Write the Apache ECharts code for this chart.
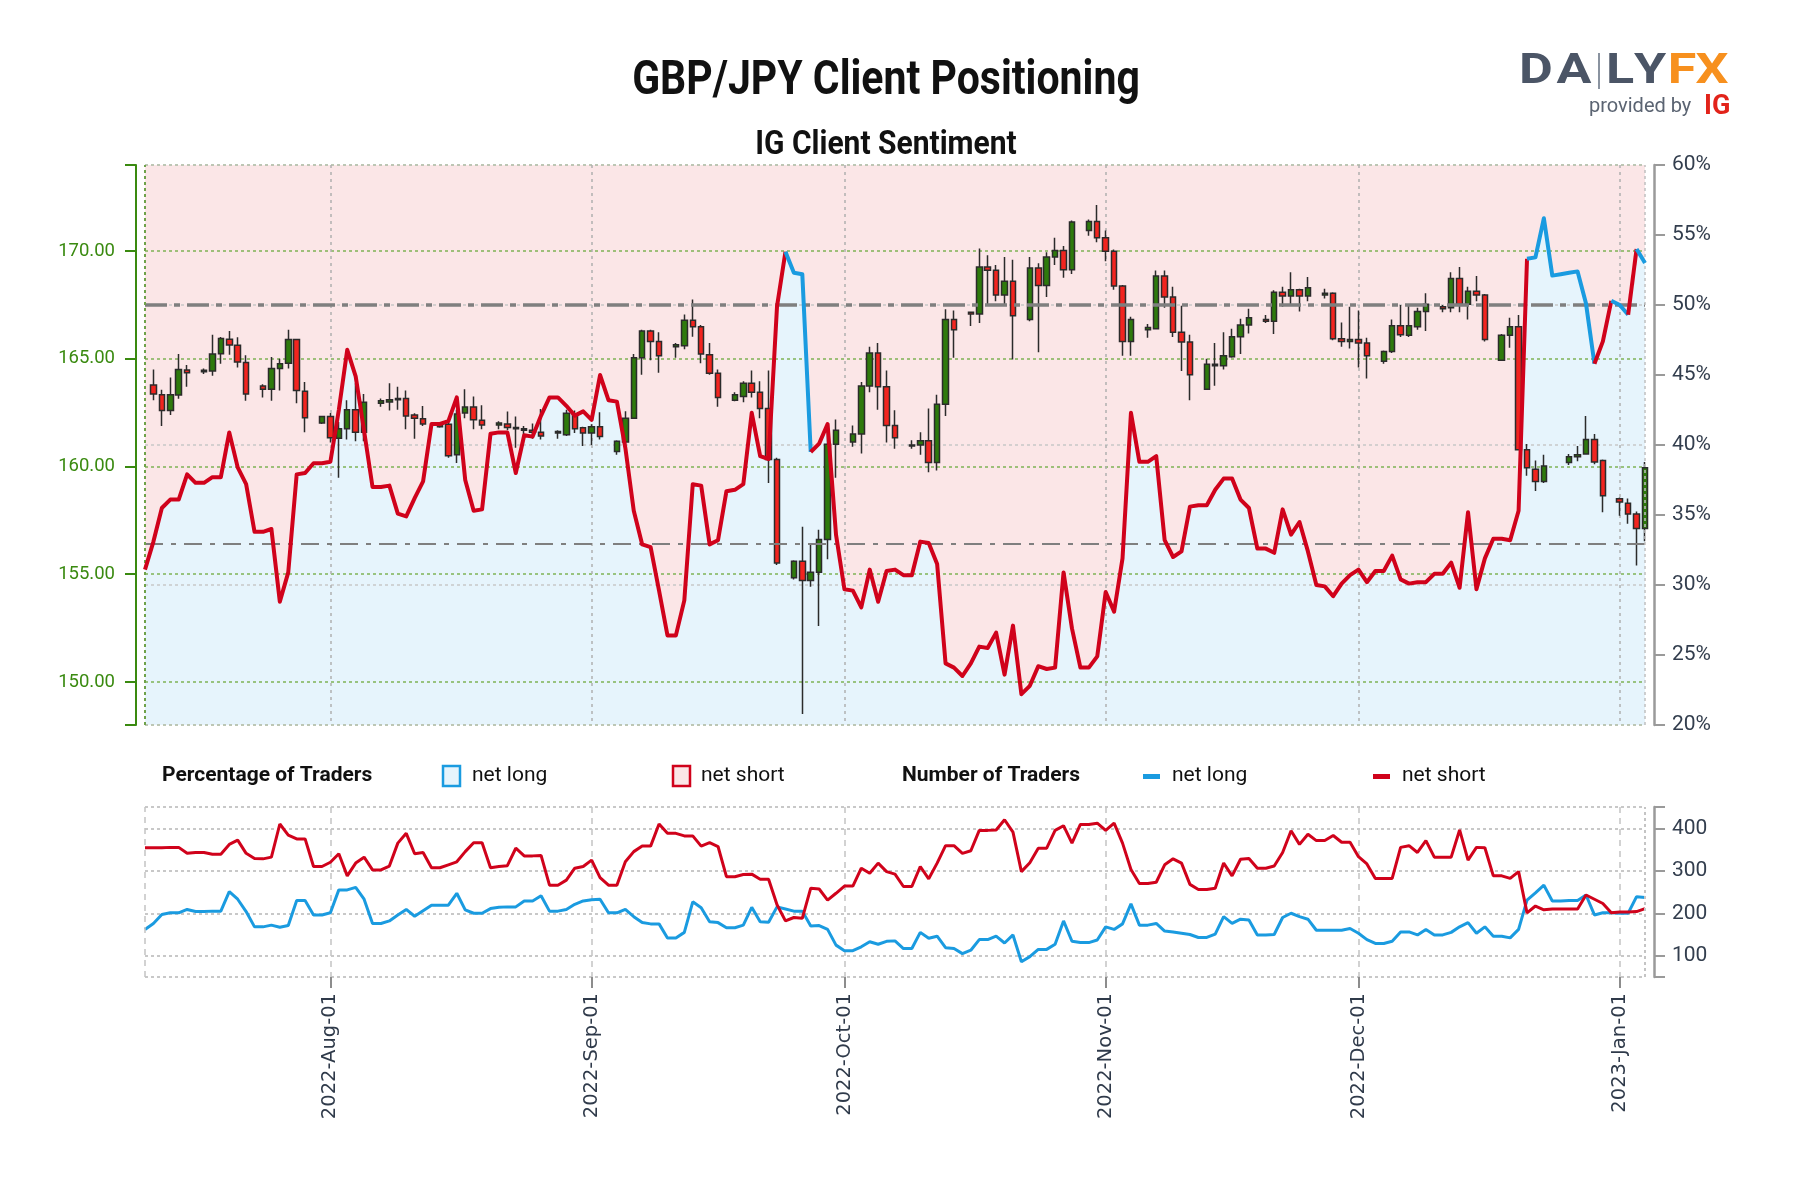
<!DOCTYPE html>
<html><head><meta charset="utf-8">
<script src="https://cdn.jsdelivr.net/npm/echarts@6/dist/echarts.min.js"></script>
<style>html,body{margin:0;padding:0;background:#fff}#c{width:1800px;height:1200px}</style>
</head><body><div id="c"></div>
<script>
// ---------------- DATA ----------------
const startDate = '2022-07-10';           // first daily sentiment point
const xMin = '2022-07-10', xMax = '2023-01-04';
const monthTicks = ['2022-08-01','2022-09-01','2022-10-01','2022-11-01','2022-12-01','2023-01-01'];
const priceLabels = [150,155,160,165,170];
const pctLabels = [20,25,30,35,40,45,50,55,60];
const countLabels = [100,200,300,400];

// % of traders net long (daily)
const pctLong = [
31.1,33.1,35.5,36.1,36.1,37.9,37.3,37.3,37.7,37.7,40.9,38.4,37.2,33.8,33.8,34.0,28.8,30.9,37.9,38.0,
38.7,38.7,38.8,42.5,46.8,44.9,41.0,37.0,37.0,37.1,35.1,34.9,36.2,37.4,41.5,41.5,41.7,43.4,37.5,35.3,
35.4,40.8,40.9,40.9,38.0,40.7,40.6,42.1,43.4,43.4,42.8,42.1,42.4,41.8,45.0,43.2,43.1,39.8,35.3,32.9,
32.7,29.6,26.4,26.4,28.9,37.2,37.1,32.9,33.2,36.7,36.8,37.2,42.3,39.2,39.0,49.9,53.8,52.3,52.2,39.5,
40.1,41.5,33.6,29.7,29.6,28.4,31.1,28.8,31.0,31.1,30.7,30.7,33.1,33.0,31.5,24.4,24.1,23.5,24.4,25.6,
25.5,26.6,23.6,27.1,22.2,22.8,24.2,24.0,24.1,30.9,26.9,24.1,24.1,24.9,29.5,28.1,31.9,42.3,38.8,38.8,
39.2,33.2,32.0,32.4,35.6,35.7,35.7,36.8,37.6,37.6,36.1,35.5,32.6,32.6,32.3,35.4,33.6,34.5,32.4,30.0,
29.9,29.2,30.1,30.7,31.1,30.2,31.0,31.0,32.1,30.4,30.1,30.2,30.2,30.8,30.8,31.6,29.8,35.2,29.7,31.9,
33.3,33.3,33.2,35.3,53.3,53.4,56.2,52.1,52.2,52.3,52.4,50.1,45.8,47.4,50.3,50.0,49.3,54.0,53.0
];
const sentimentAvg = 32.95;

// number of traders (daily)
const netLong = [
162,176,197,201,201,209,204,204,205,205,251,233,204,168,168,172,167,171,230,230,
196,196,201,255,255,261,233,176,176,182,196,209,193,206,219,219,219,247,208,200,
200,211,214,215,215,229,229,241,205,205,209,221,229,232,233,201,201,209,192,178,
175,175,142,142,155,227,213,180,178,166,166,172,214,180,179,215,210,205,205,170,
171,162,125,112,112,121,133,127,134,135,117,117,155,141,146,119,117,105,113,138,
138,146,130,149,86,98,115,115,127,182,134,131,131,137,168,162,175,222,172,172,
176,158,156,153,150,143,143,151,192,176,186,184,149,149,150,190,200,192,186,160,
160,160,160,164,153,138,129,129,134,156,156,149,162,149,149,155,168,178,153,168,
146,146,142,162,231,248,266,229,229,230,230,243,196,201,201,200,200,239,237
];
const netShort = [
354,354,354,355,355,341,343,343,339,339,362,372,341,329,328,332,410,384,375,375,
310,310,320,340,288,318,332,302,302,311,365,388,340,343,307,307,314,321,345,366,
366,307,310,312,353,335,335,336,266,266,278,306,310,325,284,266,266,321,345,358,
358,410,388,388,382,382,358,366,357,286,286,291,292,280,280,220,182,190,188,259,
257,231,247,264,264,306,294,318,298,292,263,263,310,281,318,359,359,341,347,395,
395,396,420,391,298,319,353,353,395,406,365,409,409,412,395,412,365,303,270,270,
273,314,328,318,268,256,256,259,318,288,327,329,306,306,311,343,394,362,386,371,
371,383,367,367,333,316,282,282,282,355,359,343,371,332,332,332,396,325,355,354,
288,288,282,298,201,217,208,210,210,210,210,243,233,223,201,203,203,204,211
];

// GBP/JPY daily candles: [date, open, close, low, high]
const candles = [
['2022-07-11',163.79,163.37,163.08,164.50],['2022-07-12',163.33,162.60,161.88,163.57],
['2022-07-13',162.60,163.33,162.39,164.13],['2022-07-14',163.32,164.50,163.15,165.22],
['2022-07-15',164.48,164.36,163.70,164.72],['2022-07-17',164.40,164.47,164.30,164.55],
['2022-07-18',164.43,165.22,164.21,166.12],['2022-07-19',165.24,165.95,164.77,166.02],
['2022-07-20',165.91,165.64,165.19,166.29],['2022-07-21',165.63,164.85,164.60,166.00],
['2022-07-22',164.83,163.37,163.06,165.17],['2022-07-24',163.74,163.59,163.20,163.82],
['2022-07-25',163.59,164.55,163.06,165.09],['2022-07-26',164.55,164.77,163.53,165.00],
['2022-07-27',164.80,165.90,164.55,166.35],['2022-07-28',165.90,163.53,162.94,165.93],
['2022-07-29',163.50,162.27,161.59,163.92],['2022-07-31',162.02,162.32,161.98,162.35],
['2022-08-01',162.32,161.34,161.12,162.49],['2022-08-02',161.31,161.76,159.48,162.07],
['2022-08-03',161.76,162.64,161.26,163.08],['2022-08-04',162.64,161.59,161.17,163.87],
['2022-08-05',161.59,162.99,161.17,163.37],['2022-08-07',162.94,163.06,162.78,163.16],
['2022-08-08',163.00,163.10,162.60,163.87],['2022-08-09',163.10,163.16,162.64,163.70],
['2022-08-10',163.16,162.35,161.73,163.53],['2022-08-11',162.39,162.24,161.29,162.47],
['2022-08-12',162.22,161.98,161.88,162.81],['2022-08-14',161.85,161.98,161.80,162.07],
['2022-08-15',161.96,160.50,160.41,162.10],['2022-08-16',160.55,162.44,160.16,162.64],
['2022-08-17',162.49,162.76,162.24,163.59],['2022-08-18',162.76,162.17,161.73,163.25],
['2022-08-19',162.15,161.93,161.73,162.84],['2022-08-21',161.93,162.02,161.73,162.10],
['2022-08-22',161.98,161.81,161.68,162.56],['2022-08-23',161.81,161.75,160.87,162.32],
['2022-08-24',161.75,161.68,161.39,161.88],['2022-08-25',161.68,161.59,161.29,162.00],
['2022-08-26',161.59,161.42,161.26,162.67],['2022-08-28',161.63,161.56,161.29,161.68],
['2022-08-29',161.48,162.47,161.42,162.64],['2022-08-30',162.44,161.76,161.56,162.60],
['2022-08-31',161.80,161.56,160.95,161.85],['2022-09-01',161.56,161.85,161.00,161.96],
['2022-09-02',161.85,161.39,161.26,162.52],['2022-09-04',160.70,161.17,160.55,161.22],
['2022-09-05',161.14,162.24,160.72,162.57],['2022-09-06',162.24,165.05,162.24,165.22],
['2022-09-07',165.05,166.29,164.26,166.35],['2022-09-08',166.29,165.81,164.94,166.35],
['2022-09-09',165.81,165.14,164.35,166.24],['2022-09-11',165.56,165.66,165.05,165.73],
['2022-09-12',165.61,166.79,165.44,167.06],['2022-09-13',166.79,166.49,166.03,167.75],
['2022-09-14',166.49,165.22,164.80,166.57],['2022-09-15',165.19,164.33,164.26,165.73],
['2022-09-16',164.33,163.20,162.78,164.51],['2022-09-18',163.08,163.33,163.03,163.45],
['2022-09-19',163.25,163.87,162.98,163.96],['2022-09-20',163.87,163.45,163.20,164.46],
['2022-09-21',163.45,162.69,162.24,163.96],['2022-09-22',162.69,160.33,159.23,164.46],
['2022-09-23',160.33,155.52,155.43,160.41],['2022-09-25',154.84,155.60,154.76,155.65],
['2022-09-26',155.60,154.71,148.51,157.20],['2022-09-27',154.71,155.09,154.42,156.36],
['2022-09-28',155.09,156.61,152.60,157.07],['2022-09-29',156.61,161.04,155.69,161.96],
['2022-09-30',161.04,161.68,159.48,162.18],['2022-10-02',161.14,161.51,160.92,161.90],
['2022-10-03',161.51,163.74,160.61,163.92],['2022-10-04',163.74,165.27,163.45,165.56],
['2022-10-05',165.27,163.70,162.64,165.73],['2022-10-06',163.70,161.90,161.12,164.46],
['2022-10-07',161.90,161.34,160.83,162.61],['2022-10-09',161.00,160.95,160.83,161.22],
['2022-10-10',161.00,161.20,160.55,161.59],['2022-10-11',161.20,160.19,159.74,162.69],
['2022-10-12',160.19,162.89,159.82,163.33],['2022-10-13',162.89,166.83,162.35,167.30],
['2022-10-14',166.83,166.35,165.05,167.25],['2022-10-16',167.16,167.08,166.52,167.20],
['2022-10-17',167.08,169.26,166.66,170.12],['2022-10-18',169.26,169.11,167.55,169.81],
['2022-10-19',169.11,167.97,167.67,169.36],['2022-10-20',167.97,168.60,167.50,169.73],
['2022-10-21',168.60,167.00,164.97,169.60],['2022-10-23',166.83,169.22,166.74,169.73],
['2022-10-24',169.22,168.40,165.31,169.44],['2022-10-25',168.40,169.73,167.87,169.95],
['2022-10-26',169.73,170.03,169.36,170.62],['2022-10-27',170.03,169.14,168.77,170.24],
['2022-10-28',169.14,171.35,168.94,171.42],['2022-10-30',170.96,171.38,170.71,171.47],
['2022-10-31',171.38,170.62,170.41,172.14],['2022-11-01',170.62,170.00,169.53,170.96],
['2022-11-02',170.00,168.38,168.21,170.08],['2022-11-03',168.38,165.81,165.14,168.43],
['2022-11-04',165.81,166.83,165.14,166.96],['2022-11-06',166.35,166.45,165.98,166.62],
['2022-11-07',166.40,168.85,166.40,169.10],['2022-11-08',168.85,167.87,167.37,169.10],
['2022-11-09',167.87,166.24,166.02,168.35],['2022-11-10',166.24,165.78,164.43,167.47],
['2022-11-11',165.78,164.26,163.08,166.12],['2022-11-13',163.59,164.75,163.59,165.00],
['2022-11-14',164.75,164.68,163.75,165.73],['2022-11-15',164.68,165.14,164.50,166.24],
['2022-11-16',165.10,166.03,165.05,166.40],['2022-11-17',166.03,166.57,165.22,166.86],
['2022-11-18',166.57,166.91,166.18,167.33],['2022-11-20',166.83,166.74,166.66,167.03],
['2022-11-21',166.74,168.09,166.15,168.18],['2022-11-22',168.09,167.92,167.42,168.35],
['2022-11-23',167.92,168.21,167.50,169.02],['2022-11-24',168.21,167.92,167.20,168.26],
['2022-11-25',167.92,168.30,167.67,168.80],['2022-11-27',167.97,168.04,167.80,168.26],
['2022-11-28',168.04,165.93,165.86,168.09],['2022-11-29',165.93,165.81,165.56,166.69],
['2022-11-30',165.81,165.90,165.48,167.42],['2022-12-01',165.90,165.73,164.60,167.25],
['2022-12-02',165.73,165.14,164.09,165.98],['2022-12-04',164.89,165.34,164.77,165.39],
['2022-12-05',165.34,166.54,165.27,166.83],['2022-12-06',166.54,166.12,166.02,167.50],
['2022-12-07',166.10,166.54,166.02,167.45],['2022-12-08',166.49,167.20,166.35,167.37],
['2022-12-09',167.20,167.54,166.29,168.04],['2022-12-11',167.42,167.33,167.16,167.50],
['2022-12-12',167.37,168.73,167.16,169.02],['2022-12-13',168.73,167.54,167.16,169.27],
['2022-12-14',167.54,168.14,166.83,168.35],['2022-12-15',168.14,167.97,167.67,168.85],
['2022-12-16',167.97,165.90,165.81,168.01],['2022-12-18',164.94,166.10,164.94,166.15],
['2022-12-19',166.10,166.49,165.51,166.91],['2022-12-20',166.49,160.78,160.75,167.03],
['2022-12-21',160.78,159.94,159.57,161.05],['2022-12-22',159.87,159.31,158.86,160.28],
['2022-12-23',159.31,160.02,159.23,160.55],['2022-12-26',160.19,160.46,160.07,160.58],
['2022-12-27',160.45,160.55,160.24,160.95],['2022-12-28',160.58,161.26,160.55,162.35],
['2022-12-29',161.26,160.21,160.11,161.51],['2022-12-30',160.28,158.64,157.88,160.33],
['2023-01-01',158.50,158.35,157.71,158.56],['2023-01-02',158.30,157.80,157.34,158.52],
['2023-01-03',157.80,157.12,155.40,157.91],['2023-01-04',157.12,159.94,156.53,160.21]
];

// ---------------- BUILD ----------------
const pad = n => (n < 10 ? '0' : '') + n;
const MON = ['Jan','Feb','Mar','Apr','May','Jun','Jul','Aug','Sep','Oct','Nov','Dec'];
const ts = s => +echarts.number.parseDate(s);
function dayStr(i) {
  const p = startDate.split('-').map(Number);
  const d = new Date(Date.UTC(p[0], p[1] - 1, p[2] + i));
  return d.getUTCFullYear() + '-' + pad(d.getUTCMonth() + 1) + '-' + pad(d.getUTCDate());
}
const dayTs = pctLong.map((_, i) => ts(dayStr(i)));
const monthVals = monthTicks.map(ts);
const candleData = candles.map(c => [ts(c[0]), c[1], c[2], c[3], c[4]]);

const RED = '#d0021b', BLUE = '#1a9be0', GREEN = '#3a8a10';
const FONT = 'Roboto, "Noto Sans", sans-serif';

// sentiment line split into runs coloured by the state at the start of each segment
const runs = [];
let s = 0;
for (let i = 1; i < pctLong.length - 1; i++) {
  if ((pctLong[i] >= 50) !== (pctLong[s] >= 50)) { runs.push([s, i]); s = i; }
}
runs.push([s, pctLong.length - 1]);
const runSeries = runs.map(([a, b]) => ({
  type: 'line', xAxisIndex: 0, yAxisIndex: 1, z: 6, silent: true,
  symbol: 'none', animation: false,
  lineStyle: { width: 4, color: pctLong[a] >= 50 ? BLUE : RED, join: 'round' },
  data: dayTs.slice(a, b + 1).map((d, k) => [d, pctLong[a + k]])
}));

const chart = echarts.init(document.getElementById('c'), null, { renderer: 'canvas' });

const xCommon = { type: 'value', min: ts(xMin), max: ts(xMax), z: 2, scale: true };

// DailyFX logo letters: [letter, centre x, colour]
const logoLetters = [['D', 1536, '#4b5566'], ['A', 1574, '#4b5566'], ['L', 1620, '#4b5566'],
                     ['Y', 1650, '#4b5566'], ['F', 1682, '#f7901e'], ['X', 1712, '#f7901e']];

const option = {
  animation: false,
  backgroundColor: '#ffffff',
  textStyle: { fontFamily: FONT },
  grid: [
    { left: 145, top: 165, width: 1500, height: 560, show: true, backgroundColor: '#fbe6e7', borderWidth: 0 },
    { left: 145, top: 807, width: 1500, height: 170, show: false }
  ],
  xAxis: [
    Object.assign({}, xCommon, { gridIndex: 0,
      axisLine: { show: false },
      axisTick: { show: false, customValues: monthVals },
      axisLabel: { show: false, customValues: monthVals },
      splitLine: { show: true, lineStyle: { color: '#b0b0b0', type: [3, 4], width: 1.5 } } }),
    Object.assign({}, xCommon, { gridIndex: 1,
      axisLine: { show: false },
      axisTick: { show: true, length: 11, customValues: monthVals, lineStyle: { color: '#8c8c8c', width: 2 } },
      axisLabel: { customValues: monthVals, rotate: 90, margin: 16, fontSize: 19.5, color: '#2f3a4a',
        fontFamily: '"DejaVu Sans", sans-serif',
        formatter: v => { const d = new Date(v); return d.getFullYear() + '-' + MON[d.getMonth()] + '-' + pad(d.getDate()); } },
      splitLine: { show: true, lineStyle: { color: '#c4c4c4', type: [6, 5], width: 1.5 } } })
  ],
  yAxis: [
    { type: 'value', gridIndex: 0, position: 'left', offset: 9, min: 148, max: 174, z: 2,
      axisLine: { show: true, lineStyle: { color: GREEN, width: 2 } },
      axisTick: { show: true, length: 11, customValues: [148].concat(priceLabels, [174]), lineStyle: { color: GREEN, width: 2 } },
      axisLabel: { customValues: priceLabels, formatter: v => v.toFixed(2), color: GREEN, fontSize: 18.5, margin: 21 },
      splitLine: { show: true, lineStyle: { color: '#7fb356', type: [3, 3], width: 1.5 } } },
    { type: 'value', gridIndex: 0, position: 'right', offset: 9, min: 20, max: 60, interval: 5, z: 2,
      axisLine: { show: true, lineStyle: { color: '#9a9a9a', width: 2.5 } },
      axisTick: { show: true, length: 11, lineStyle: { color: '#9a9a9a', width: 2 } },
      axisLabel: { formatter: '{value}%', color: '#333e4e', fontSize: 21, margin: 18 },
      splitLine: { show: false } },
    { type: 'value', gridIndex: 0, position: 'right', min: 20, max: 60, interval: 10, z: 2,
      axisLine: { show: false }, axisTick: { show: false }, axisLabel: { show: false },
      splitLine: { show: true, lineStyle: { color: '#c8c8c8', type: [3, 3], width: 1.5 } } },
    { type: 'value', gridIndex: 1, position: 'right', offset: 9, min: 50, max: 450, z: 2,
      axisLine: { show: true, lineStyle: { color: '#9a9a9a', width: 2.5 } },
      axisTick: { show: true, length: 11, customValues: [50].concat(countLabels, [450]), lineStyle: { color: '#9a9a9a', width: 2 } },
      axisLabel: { customValues: countLabels, color: '#333e4e', fontSize: 21, margin: 18 },
      splitLine: { show: true, lineStyle: { color: '#c8c8c8', type: [3, 3], width: 2 } } }
  ],
  series: [
    { type: 'line', name: 'fill', xAxisIndex: 0, yAxisIndex: 1, z: 1, silent: true, symbol: 'none',
      lineStyle: { width: 0 }, areaStyle: { color: '#e6f4fc', opacity: 1, origin: 'start' },
      data: dayTs.map((d, i) => [d, pctLong[i]]),
      markLine: { silent: true, symbol: ['none', 'none'], label: { show: false }, animation: false,
        data: [
          { yAxis: 50, lineStyle: { color: '#7f7f7f', width: 3.5, type: [22, 7, 6, 7] } },
          { yAxis: sentimentAvg, lineStyle: { color: '#7f7f7f', width: 2, type: [18, 8, 5, 8] } },
          { xAxis: ts(xMin), lineStyle: { color: '#6fa24a', width: 2, type: [3, 3] } },
          { xAxis: ts(xMax), lineStyle: { color: '#c0c0c0', width: 1.5, type: [3, 3] } }
        ] } },
    { type: 'candlestick', xAxisIndex: 0, yAxisIndex: 0, z: 3, silent: true, barWidth: 6,
      encode: { x: 0, y: [1, 2, 3, 4] },
      itemStyle: { color: '#2e7a0c', color0: '#f2241f', borderColor: '#2b2b2b', borderColor0: '#2b2b2b', borderWidth: 1.5 },
      data: candleData },
    ...runSeries,
    { type: 'line', name: 'netLong', xAxisIndex: 1, yAxisIndex: 3, z: 4, silent: true, symbol: 'none',
      lineStyle: { width: 3, color: BLUE }, data: dayTs.map((d, i) => [d, netLong[i]]),
      markLine: { silent: true, symbol: ['none', 'none'], label: { show: false },
        data: [
          { xAxis: ts(xMin), lineStyle: { color: '#c4c4c4', width: 1.5, type: [6, 5] } },
          { xAxis: ts(xMax), lineStyle: { color: '#c4c4c4', width: 2, type: [3, 3] } }
        ] } },
    { type: 'line', name: 'netShort', xAxisIndex: 1, yAxisIndex: 3, z: 4, silent: true, symbol: 'none',
      lineStyle: { width: 3, color: RED }, data: dayTs.map((d, i) => [d, netShort[i]]) }
  ],
  graphic: [
    { type: 'text', x: 886, y: 82, scaleY: 1.15, style: { text: 'GBP/JPY Client Positioning', font: 'bold 41px ' + FONT, fill: '#111', align: 'center', verticalAlign: 'middle' } },
    { type: 'text', x: 886, y: 146, scaleY: 1.1, style: { text: 'IG Client Sentiment', font: 'bold 30px ' + FONT, fill: '#111', align: 'center', verticalAlign: 'middle' } },
    // logo
    ...logoLetters.map(l => ({ type: 'text', x: l[1], y: 72, scaleX: 1.3, scaleY: 1.08,
      style: { text: l[0], font: 'bold 40px ' + FONT, fill: l[2], align: 'center', verticalAlign: 'middle' } })),
    { type: 'rect', shape: { x: 1598, y: 53, width: 2, height: 36 }, style: { fill: '#8a93a0' } },
    { type: 'text', x: 1589, y: 107, style: { text: 'provided by', font: '20px ' + FONT, fill: '#5b6472', verticalAlign: 'middle' } },
    { type: 'text', x: 1704, y: 107, style: { text: 'IG', font: 'bold 27px ' + FONT, fill: '#e2231a', verticalAlign: 'middle' } },
    // legend
    { type: 'text', x: 162, y: 776, style: { text: 'Percentage of Traders', font: 'bold 21px ' + FONT, fill: '#111', verticalAlign: 'middle' } },
    { type: 'rect', shape: { x: 443, y: 766, width: 17, height: 20 }, style: { fill: '#e6f4fc', stroke: BLUE, lineWidth: 2.5 } },
    { type: 'text', x: 472, y: 776, style: { text: 'net long', font: '21px ' + FONT, fill: '#111', verticalAlign: 'middle' } },
    { type: 'rect', shape: { x: 673, y: 766, width: 17, height: 20 }, style: { fill: '#fbe6e7', stroke: RED, lineWidth: 2.5 } },
    { type: 'text', x: 701, y: 776, style: { text: 'net short', font: '21px ' + FONT, fill: '#111', verticalAlign: 'middle' } },
    { type: 'text', x: 902, y: 776, style: { text: 'Number of Traders', font: 'bold 21px ' + FONT, fill: '#111', verticalAlign: 'middle' } },
    { type: 'rect', shape: { x: 1143, y: 774, width: 17, height: 5 }, style: { fill: BLUE } },
    { type: 'text', x: 1172, y: 776, style: { text: 'net long', font: '21px ' + FONT, fill: '#111', verticalAlign: 'middle' } },
    { type: 'rect', shape: { x: 1373, y: 774, width: 17, height: 5 }, style: { fill: RED } },
    { type: 'text', x: 1402, y: 776, style: { text: 'net short', font: '21px ' + FONT, fill: '#111', verticalAlign: 'middle' } }
  ]
};
chart.setOption(option);
</script>
</body></html>
